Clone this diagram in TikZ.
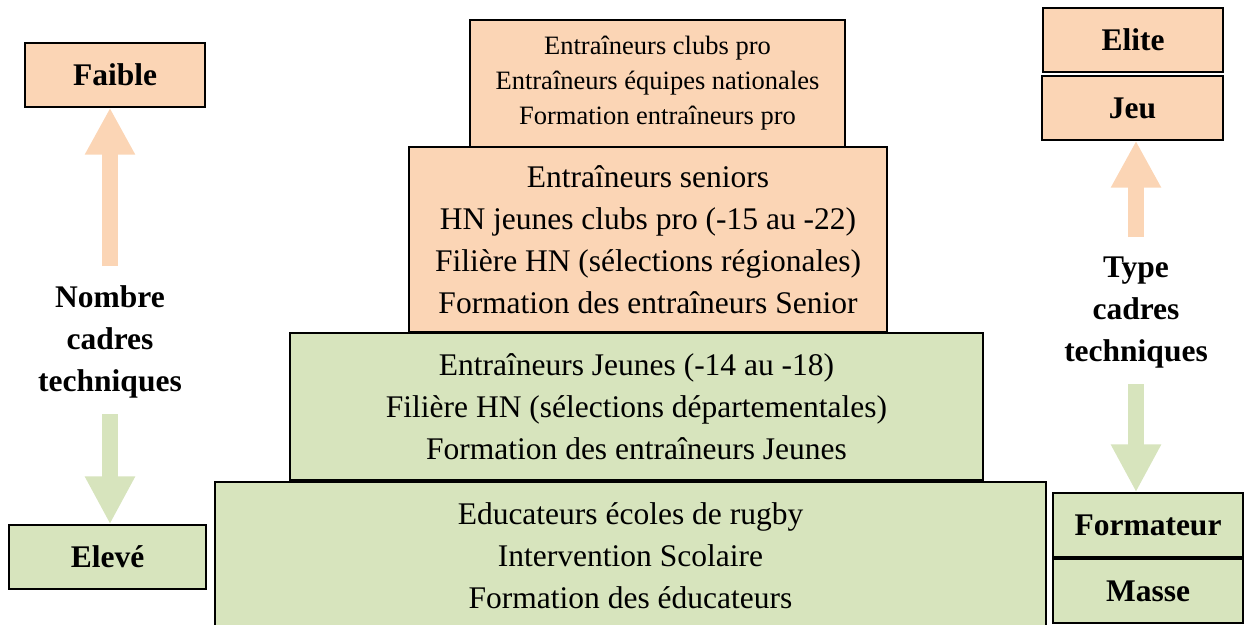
\documentclass[tikz,border=0pt]{standalone}
\usepackage{fontspec}
\setmainfont{Liberation Serif}
\usetikzlibrary{arrows.meta}
\definecolor{peach}{HTML}{FBD5B5}
\definecolor{sage}{HTML}{D7E4BD}
\begin{document}
\begin{tikzpicture}[
  x=1pt,y=-1pt,
  every node/.style={align=center,inner sep=0pt,font=\fontsize{31.5pt}{42pt}\selectfont},
  tier/.style={draw,line width=1.4pt},
  level/.style={draw,line width=1.4pt,font=\fontsize{31.5pt}{42pt}\selectfont\bfseries},
  blockup/.style={peach,line width=16pt,-{Triangle[width=47pt,length=47pt]}},
  blockdown/.style={sage,line width=16pt,-{Triangle[width=47pt,length=48pt]}}
]
  \useasboundingbox (0,0) rectangle (1245,624);
  \node[tier,fill=peach,minimum width=375pt,minimum height=127pt,font=\fontsize{26.5pt}{35pt}\selectfont] (apex) at (657.5,83.5)
    {Entraîneurs clubs pro\\Entraîneurs équipes nationales\\Formation entraîneurs pro};
  \node[tier,fill=peach,minimum width=478pt,minimum height=185pt] (senior) at (648,239.5)
    {Entraîneurs seniors\\HN jeunes clubs pro (-15 au -22)\\Filière HN (sélections régionales)\\Formation des entraîneurs Senior};
  \node[tier,fill=sage,minimum width=693pt,minimum height=147pt] (jeunes) at (636.5,406.5)
    {Entraîneurs Jeunes (-14 au -18)\\Filière HN (sélections départementales)\\Formation des entraîneurs Jeunes};
  \node[tier,fill=sage,minimum width=831pt,minimum height=148pt] (ecole) at (630.5,556)
    {Educateurs écoles de rugby\\Intervention Scolaire\\Formation des éducateurs};

  \node[level,fill=peach,minimum width=180pt,minimum height=64pt] (faible) at (115,75) {Faible};
  \node[level,fill=sage,minimum width=197pt,minimum height=64pt] (eleve) at (107.5,557) {Elevé};
  \node[font=\fontsize{31.5pt}{42pt}\selectfont\bfseries] (nombre) at (110,342) {Nombre\\cadres\\techniques};

  \node[level,fill=peach,minimum width=180pt,minimum height=64pt] (elite) at (1133,40) {Elite};
  \node[level,fill=peach,minimum width=181pt,minimum height=64pt] (jeu) at (1132.5,108) {Jeu};
  \node[level,fill=sage,minimum width=190pt,minimum height=64pt] (form) at (1148,525) {Formateur};
  \node[level,fill=sage,minimum width=190pt,minimum height=64pt] (masse) at (1148,591) {Masse};
  \node[font=\fontsize{31.5pt}{42pt}\selectfont\bfseries] (type) at (1136,313) {Type\\cadres\\techniques};

  \coordinate (upL) at (110,266);
  \coordinate (downL) at (110,414);
  \coordinate (upR) at (1136,237);
  \coordinate (downR) at (1136,384);

  \draw[blockup] (upL) -- (upL |- faible.south);
  \draw[blockdown] (downL) -- (downL |- eleve.north);
  \draw[blockup] (upR) -- (upR |- jeu.south);
  \draw[blockdown] (downR) -- (downR |- form.north);
\end{tikzpicture}
\end{document}
